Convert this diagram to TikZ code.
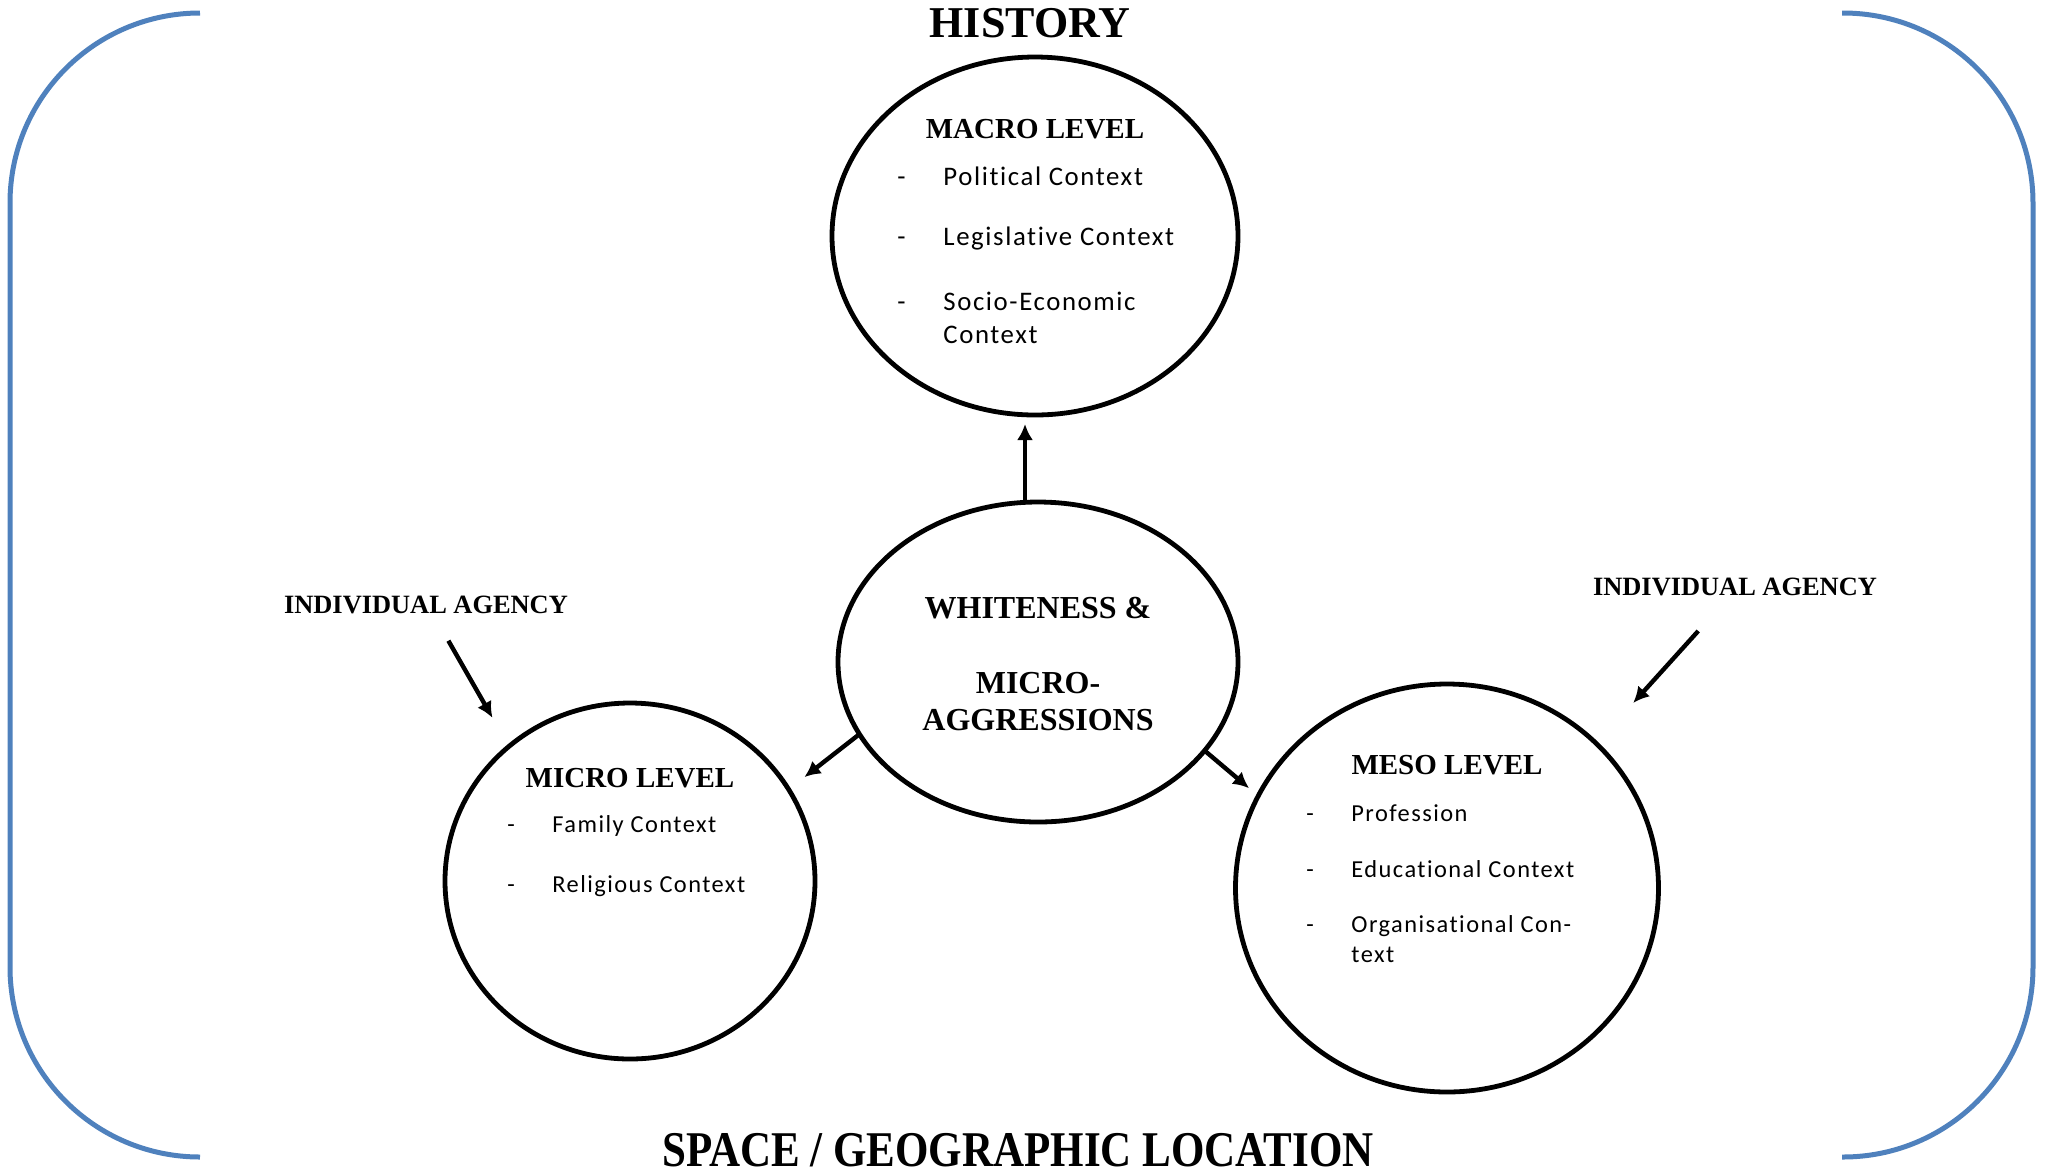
\documentclass[tikz,border=0pt]{standalone}
\usepackage{fontspec}
\setmainfont{Liberation Serif}
\newfontfamily\listfont[LetterSpace=6,Ligatures=NoCommon]{Carlito}
\usetikzlibrary{shapes.geometric,arrows.meta,positioning}
\definecolor{framecol}{HTML}{4F81BD}
\tikzset{
  >={Latex[length=8pt,width=8pt]},
  level/.style={
    ellipse,
    draw=black,
    line width=2.4pt,
    inner sep=0pt,
    outer sep=0pt},
  heading/.style={font=\bfseries\fontsize{14.5}{17}\selectfont, anchor=base, inner sep=0pt},
  bigheading/.style={font=\bfseries\fontsize{22}{26}\selectfont, anchor=base, inner sep=0pt},
  agency/.style={font=\bfseries\fontsize{13.2}{15}\selectfont, anchor=base, inner sep=0pt},
  core/.style={font=\bfseries\fontsize{16}{19}\selectfont, anchor=base, inner sep=0pt},
  entry/.style={font=\listfont\fontsize{12.2}{15}\selectfont, anchor=base west, inner sep=0pt},
  bigentry/.style={entry, font=\listfont\fontsize{13.4}{15}\selectfont},
  link/.style={->, line width=2.2pt},
  frame/.style={draw=framecol, line width=2.5pt, rounded corners=95pt},
}

\begin{document}
\begin{tikzpicture}[x=0.5pt,y=-0.5pt]
  \useasboundingbox (0,0) rectangle (2047,1175);
  % the two blue brackets
  \draw[frame] (200,13) -- (10,13) -- (10,1157) -- (200,1157);
  \draw[frame] (1842,13) -- (2033,13) -- (2033,1157) -- (1842,1157);
  \node[bigheading] (history) at (1030,37) {HISTORY};
  \node[bigheading, font=\bfseries\fontsize{25}{30}\selectfont] (space) at (1018,1166)
      {\scalebox{0.86}[1]{SPACE / GEOGRAPHIC LOCATION}};
  % the four circles
  \node[level, minimum width=203pt, minimum height=179pt] (macro) at (1035,236) {};
  \node[level, minimum width=200pt, minimum height=160pt] (whiteness) at (1038,662) {};
  \node[level, minimum width=185pt, minimum height=178pt] (micro) at (630,881) {};
  \node[level, minimum width=211.5pt, minimum height=204pt] (meso) at (1447,888) {};
  %% macro level
  \node[heading] (macrotitle) at (1035,138) {MACRO LEVEL};
  \node[bigentry] (macrodash1) at (897,185) {-};
  \node[bigentry] (political) at (943,185) {Political Context};
  \node[bigentry] (macrodash2) at (897,245) {-};
  \node[bigentry] (legislative) at (943,245) {Legislative Context};
  \node[bigentry] (macrodash3) at (897,310) {-};
  \node[bigentry] (socio) at (943,310) {Socio-Economic};
  \node[bigentry] (socio2) at (943,343) {Context};
  %% centre
  \node[core] (whitetitle) at (1038,618) {WHITENESS \&};
  \node[core] (microagg1) at (1038,693) {MICRO-};
  \node[core] (microagg2) at (1038,730) {AGGRESSIONS};
  %% micro level
  \node[heading] (microtitle) at (630,787) {MICRO LEVEL};
  \node[entry] (microdash1) at (507,832) {-};
  \node[entry] (family) at (552,832) {Family Context};
  \node[entry] (microdash2) at (507,892) {-};
  \node[entry] (religious) at (552,892) {Religious Context};
  %% meso level
  \node[heading] (mesotitle) at (1447,774) {MESO LEVEL};
  \node[entry] (mesodash1) at (1306,821) {-};
  \node[entry] (profession) at (1351,821) {Profession};
  \node[entry] (mesodash2) at (1306,877) {-};
  \node[entry] (educational) at (1351,877) {Educational Context};
  \node[entry] (mesodash3) at (1306,932) {-};
  \node[entry] (organisational) at (1351,932) {Organisational Con-};
  \node[entry] (organisational2) at (1351,962) {text};
  %% agency labels
  \node[agency] (agencyleft) at (426,613) {INDIVIDUAL AGENCY};
  \node[agency] (agencyright) at (1735,595) {INDIVIDUAL AGENCY};
  % arrows
  \draw[link, shorten >=4.5pt] ([xshift=-6.5pt]whiteness.north) -- ([xshift=-5pt]macro.south);
  \draw[link, shorten >=10pt] (whiteness.202) -- (micro.30);
  \draw[link, shorten >=6pt] (whiteness.332) -- (meso.154.7);
  \draw[link, shorten <=15.5pt, shorten >=16.5pt] ([xshift=3.5pt]agencyleft.south) -- (micro.132);
  \draw[link, shorten <=23.7pt, shorten >=27.4pt] ([xshift=-2.5pt]agencyright.south) -- (meso.44.5);
\end{tikzpicture}
\end{document}
